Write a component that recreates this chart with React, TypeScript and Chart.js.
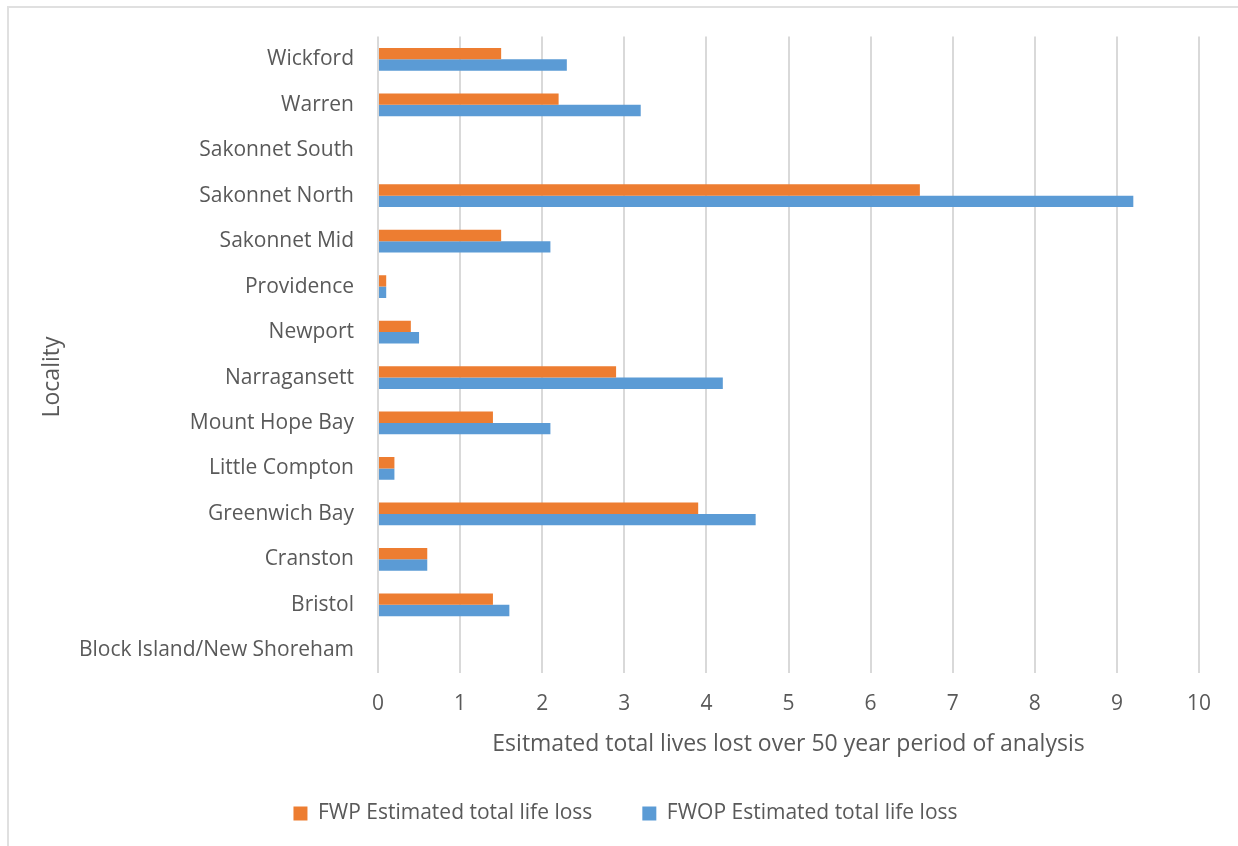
import React, { useEffect, useRef } from 'react';
import { Chart, registerables } from 'chart.js';

Chart.register(...registerables);

const categories = [
  'Wickford',
  'Warren',
  'Sakonnet South',
  'Sakonnet North',
  'Sakonnet Mid',
  'Providence',
  'Newport',
  'Narragansett',
  'Mount Hope Bay',
  'Little Compton',
  'Greenwich Bay',
  'Cranston',
  'Bristol',
  'Block Island/New Shoreham',
];
const fwpValues = [1.5, 2.2, 0, 6.6, 1.5, 0.1, 0.4, 2.9, 1.4, 0.2, 3.9, 0.6, 1.4, 0];
const fwopValues = [2.3, 3.2, 0, 9.2, 2.1, 0.1, 0.5, 4.2, 2.1, 0.2, 4.6, 0.6, 1.6, 0];
const seriesNames = ['FWP Estimated total life loss', 'FWOP Estimated total life loss'];
const xAxisTitle = 'Esitmated total lives lost over 50 year period of analysis';
const yAxisTitle = 'Locality';
const xMin = 0;
const xMax = 10;
const xStep = 1;

const FONT = '"Open Sans", "Noto Sans", sans-serif';
const TEXT = '#595959';
const GRID = '#d9d9d9';

const yTitlePlugin = {
  id: 'yTitlePlugin',
  afterDraw(chart: any) {
    const ctx = chart.ctx;
    ctx.save();
    ctx.translate(52, 377);
    ctx.rotate(-Math.PI / 2);
    ctx.font = `23px ${FONT}`;
    ctx.fillStyle = TEXT;
    ctx.textAlign = 'center';
    ctx.textBaseline = 'middle';
    ctx.fillText(yAxisTitle, 0, 0);
    ctx.restore();
  },
};

const legendShiftPlugin = {
  id: 'legendShiftPlugin',
  afterLayout(chart: any) {
    const lg = chart.legend;
    if (lg) {
      lg.left += 22;
      lg.right += 22;
    }
  },
};

export default function App() {
  const ref = useRef<HTMLCanvasElement | null>(null);

  useEffect(() => {
    document.body.style.margin = '0';
    const canvas = ref.current;
    if (!canvas) return;
    const chart = new Chart(canvas, {
      type: 'bar',
      data: {
        labels: categories,
        datasets: [
          {
            label: seriesNames[0],
            data: fwpValues,
            backgroundColor: '#ED7D31',
            borderWidth: 0,
            categoryPercentage: 0.5,
            barPercentage: 1.0,
          },
          {
            label: seriesNames[1],
            data: fwopValues,
            backgroundColor: '#5B9BD5',
            borderWidth: 0,
            categoryPercentage: 0.5,
            barPercentage: 1.0,
          },
        ],
      },
      options: {
        indexAxis: 'y',
        animation: false,
        responsive: true,
        maintainAspectRatio: false,
        layout: { padding: { left: 8, right: 39, top: 34, bottom: 12 } },
        plugins: {
          legend: {
            position: 'bottom',
            labels: {
              boxWidth: 14,
              boxHeight: 14,
              padding: 50,
              color: TEXT,
              font: { family: FONT, size: 21 },
            },
          },
          tooltip: { enabled: false },
        },
        scales: {
          x: {
            type: 'linear',
            min: xMin,
            max: xMax,
            ticks: {
              stepSize: xStep,
              color: TEXT,
              font: { family: FONT, size: 21 },
              padding: 18,
            },
            grid: { color: GRID, lineWidth: 2, drawTicks: false },
            border: { display: false },
            title: {
              display: true,
              text: xAxisTitle,
              color: TEXT,
              font: { family: FONT, size: 23 },
              padding: { top: 0, bottom: -5 },
            },
            afterFit: (s: any) => {
              s.height = 80;
            },
          },
          y: {
            type: 'category',
            ticks: {
              color: TEXT,
              font: { family: FONT, size: 21 },
              padding: 24,
              autoSkip: false,
            },
            grid: { display: false, drawTicks: false },
            border: { display: false },
            afterFit: (s: any) => {
              s.width = 370;
            },
          },
        },
      },
      plugins: [yTitlePlugin, legendShiftPlugin],
    });
    return () => chart.destroy();
  }, []);

  return (
    <div style={{ position: 'relative', width: 1238, height: 846, overflow: 'hidden', background: '#fff' }}>
      <div
        style={{
          position: 'absolute',
          left: 7,
          top: 6,
          width: 1260,
          height: 870,
          border: '2px solid #e0e0e0',
          boxSizing: 'border-box',
        }}
      />
      <div style={{ position: 'absolute', left: 0, top: 0, width: 1238, height: 846 }}>
        <canvas ref={ref} />
      </div>
    </div>
  );
}
